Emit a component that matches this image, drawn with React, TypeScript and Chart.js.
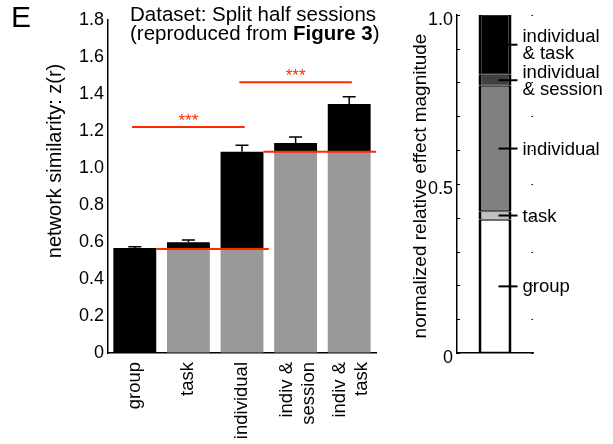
import React, { useEffect, useRef } from "react";
import { Chart, registerables } from "chart.js";
Chart.register(...registerables);

const FONT = '"Liberation Sans", Arial, Helvetica, sans-serif';
const RED = "#ff2a00";

// ---- Left panel data ----
const categories = ["group", "task", "individual", "indiv &\nsession", "indiv &\ntask"];
const grayBase = [0, 0.565, 0.565, 1.088, 1.088];
const barTotals = [0.567, 0.598, 1.088, 1.135, 1.346];
const errorUpper = [0.575, 0.611, 1.123, 1.168, 1.385];
const yTickValues = [0, 0.2, 0.4, 0.6, 0.8, 1.0, 1.2, 1.4, 1.6, 1.8];
const refFrom = [0, 2];
const refTo = [2, 4];
const refValue = [0.562, 1.088];
const sigFrom = [0, 2];
const sigTo = [2, 4];
const sigValue = [1.222, 1.463];
const sigText = ["***", "***"];

// ---- Right panel data ----
const effectNames = ["group", "task", "individual", "individual\n& session", "individual\n& task"];
const effectShares = [0.394, 0.025, 0.371, 0.033, 0.177];
const effectColors = ["#ffffff", "#c0c0c0", "#808080", "#404040", "#000000"];
const effectTickValues = [0, 0.1, 0.2, 0.3, 0.4, 0.5, 0.6, 0.7, 0.8, 0.9, 1.0];
const effectTickLabels = ["0", "", "", "", "", "0.5", "", "", "", "", "1.0"];

const leftPlugin = {
  id: "leftDecor",
  afterDatasetsDraw(chart: any) {
    const { ctx, scales } = chart;
    const x = scales.x;
    const y = scales.y;
    const px = (v: number) => x.getPixelForValue(v);
    ctx.save();
    // error bars
    ctx.strokeStyle = "#000";
    ctx.lineWidth = 1.5;
    errorUpper.forEach((e, i) => {
      const cx = px(i);
      const y0 = y.getPixelForValue(barTotals[i]);
      const y1 = y.getPixelForValue(e);
      ctx.beginPath();
      ctx.moveTo(cx, y0);
      ctx.lineTo(cx, y1);
      ctx.moveTo(cx - 6.5, y1);
      ctx.lineTo(cx + 6.5, y1);
      ctx.stroke();
    });
    // red reference lines
    ctx.strokeStyle = RED;
    ctx.lineWidth = 2;
    refValue.forEach((v, i) => {
      const yy = y.getPixelForValue(v);
      ctx.beginPath();
      ctx.moveTo(px(refFrom[i] + 0.4), yy);
      ctx.lineTo(px(refTo[i] + 0.5), yy);
      ctx.stroke();
    });
    // significance lines
    ctx.fillStyle = RED;
    ctx.font = `17px ${FONT}`;
    ctx.textAlign = "center";
    ctx.textBaseline = "alphabetic";
    sigValue.forEach((v, i) => {
      const yy = y.getPixelForValue(v);
      const a = px(sigFrom[i] - 0.05);
      const b = px(sigTo[i] + 0.05);
      ctx.beginPath();
      ctx.moveTo(a, yy);
      ctx.lineTo(b, yy);
      ctx.stroke();
      ctx.fillText(sigText[i], (a + b) / 2, yy - 1);
    });
    // x labels (rotated)
    ctx.fillStyle = "#000";
    ctx.font = `18.5px ${FONT}`;
    categories.forEach((lab, i) => {
      const lines = lab.split("\n");
      const cx = px(i);
      lines.forEach((ln, k) => {
        const off = (k - (lines.length - 1) / 2) * 22 + (lines.length > 1 ? 2 : 0);
        ctx.save();
        ctx.translate(cx + off, y.bottom + 9);
        ctx.rotate(-Math.PI / 2);
        ctx.textAlign = "right";
        ctx.textBaseline = "middle";
        ctx.fillText(ln, 0, 0);
        ctx.restore();
      });
    });
    // panel letter
    ctx.textAlign = "left";
    ctx.textBaseline = "alphabetic";
    ctx.font = `30px ${FONT}`;
    ctx.fillText("E", 11, 27);
    // title
    ctx.font = `20.5px ${FONT}`;
    ctx.fillText("Dataset: Split half sessions", 130, 21);
    const p1 = "(reproduced from ";
    const p2 = "Figure 3";
    ctx.fillText(p1, 130, 40);
    let w = ctx.measureText(p1).width;
    ctx.font = `bold 20.5px ${FONT}`;
    ctx.fillText(p2, 130 + w, 40);
    w += ctx.measureText(p2).width;
    ctx.font = `20.5px ${FONT}`;
    ctx.fillText(")", 130 + w, 40);
    // y title
    ctx.save();
    ctx.translate(61, 161);
    ctx.rotate(-Math.PI / 2);
    ctx.textAlign = "center";
    ctx.font = `20px ${FONT}`;
    ctx.fillText("network similarity: z(r)", 0, 0);
    ctx.restore();
    ctx.restore();
  },
};

const rightPlugin = {
  id: "rightDecor",
  afterDatasetsDraw(chart: any) {
    const { ctx, scales, chartArea } = chart;
    const y = scales.y;
    const bar = chart.getDatasetMeta(0).data[0];
    const barRight = bar.x + bar.width / 2;
    ctx.save();
    ctx.strokeStyle = "#000";
    ctx.lineWidth = 1;
    effectTickValues.forEach((v) => {
      const yy = Math.round(y.getPixelForValue(v)) + 0.5;
      ctx.beginPath();
      ctx.moveTo(chartArea.left, yy);
      ctx.lineTo(chartArea.left + 3, yy);
      ctx.moveTo(chartArea.right - 1.5, yy);
      ctx.lineTo(chartArea.right, yy);
      ctx.stroke();
    });
    ctx.lineWidth = 2;
    ctx.fillStyle = "#000";
    ctx.font = `18.5px ${FONT}`;
    ctx.textAlign = "left";
    ctx.textBaseline = "middle";
    let cum = 0;
    effectShares.forEach((s, i) => {
      const mid = cum + s / 2;
      cum += s;
      const yy = y.getPixelForValue(mid);
      ctx.beginPath();
      ctx.moveTo(bar.x + 3.5, yy);
      ctx.lineTo(barRight + 6, yy);
      ctx.stroke();
      const lines = effectNames[i].split("\n");
      lines.forEach((ln, k) => {
        const off = (k - (lines.length - 1) / 2) * 17;
        ctx.fillText(ln, barRight + 11, yy + off + 1);
      });
    });
    // y title
    ctx.save();
    ctx.translate(426, 186);
    ctx.rotate(-Math.PI / 2);
    ctx.textAlign = "center";
    ctx.textBaseline = "alphabetic";
    ctx.font = `19px ${FONT}`;
    ctx.fillText("normalized relative effect magnitude", 0, 0);
    ctx.restore();
    ctx.restore();
  },
};

function LeftChart() {
  const ref = useRef<HTMLCanvasElement>(null);
  useEffect(() => {
    const chart = new Chart(ref.current as HTMLCanvasElement, {
      type: "bar",
      data: {
        labels: categories,
        datasets: [
          { data: grayBase, backgroundColor: "#999999", stack: "s" },
          {
            data: barTotals.map((t, i) => t - grayBase[i]),
            backgroundColor: "#000000",
            stack: "s",
          },
        ],
      },
      options: {
        animation: false,
        responsive: false,
        devicePixelRatio: 1,
        events: [],
        layout: { padding: { left: 0, right: 237, top: 20, bottom: 0 } },
        plugins: { legend: { display: false }, tooltip: { enabled: false } },
        datasets: { bar: { categoryPercentage: 1, barPercentage: 0.8 } },
        scales: {
          x: {
            stacked: true,
            ticks: { display: false },
            grid: { display: true, drawOnChartArea: false, drawTicks: false },
            border: { display: true, color: "#000", width: 1.5 },
            afterFit: (s: any) => {
              s.height = 91;
            },
          },
          y: {
            stacked: true,
            min: 0,
            max: 1.8,
            afterBuildTicks: (s: any) => {
              s.ticks = yTickValues.map((v) => ({ value: v }));
            },
            ticks: {
              color: "#000",
              font: { family: FONT, size: 18 },
              padding: 4,
              callback: (v: any) => (Number(v) === 0 ? "0" : Number(v).toFixed(1)),
            },
            grid: { display: true, drawOnChartArea: false, drawTicks: false },
            border: { display: true, color: "#000", width: 1.5 },
            afterFit: (s: any) => {
              s.width = 108;
            },
          },
        },
      },
      plugins: [leftPlugin],
    } as any);
    return () => chart.destroy();
  }, []);
  return (
    <canvas
      ref={ref}
      width={613}
      height={444}
      style={{ position: "absolute", left: 0, top: 0, width: 613, height: 444 }}
    />
  );
}

function RightChart() {
  const ref = useRef<HTMLCanvasElement>(null);
  useEffect(() => {
    const chart = new Chart(ref.current as HTMLCanvasElement, {
      type: "bar",
      data: {
        labels: [""],
        datasets: effectShares.map((v, i) => ({
          data: [v],
          backgroundColor: effectColors[i],
          borderColor: "#000",
          borderWidth: { top: 1, bottom: 1, left: 3, right: 3 },
          borderSkipped: false,
          stack: "e",
        })),
      },
      options: {
        animation: false,
        responsive: false,
        devicePixelRatio: 1,
        events: [],
        layout: { padding: { left: 0, right: 80, top: 13, bottom: 0 } },
        plugins: { legend: { display: false }, tooltip: { enabled: false } },
        datasets: { bar: { categoryPercentage: 1, barPercentage: 0.434 } },
        scales: {
          x: {
            stacked: true,
            ticks: { display: false },
            grid: { display: true, drawOnChartArea: false, drawTicks: false },
            border: { display: true, color: "#000", width: 1.5 },
            afterFit: (s: any) => {
              s.height = 91;
            },
          },
          y: {
            stacked: true,
            min: 0,
            max: 1,
            afterBuildTicks: (s: any) => {
              s.ticks = effectTickValues.map((v) => ({ value: v }));
            },
            ticks: {
              color: "#000",
              font: { family: FONT, size: 18 },
              padding: 4,
              labelOffset: 5,
              autoSkip: false,
              callback: (_v: any, idx: number) => effectTickLabels[idx],
            },
            grid: { display: true, drawOnChartArea: false, drawTicks: false },
            border: { display: true, color: "#000", width: 1.5 },
            afterFit: (s: any) => {
              s.width = 457;
            },
          },
        },
      },
      plugins: [rightPlugin],
    } as any);
    return () => chart.destroy();
  }, []);
  return (
    <canvas
      ref={ref}
      width={613}
      height={444}
      style={{ position: "absolute", left: 0, top: 0, width: 613, height: 444 }}
    />
  );
}

export default function App() {
  return (
    <div
      style={{
        position: "fixed",
        left: 0,
        top: 0,
        width: 613,
        height: 444,
        background: "#fff",
        overflow: "hidden",
      }}
    >
      <LeftChart />
      <RightChart />
    </div>
  );
}
